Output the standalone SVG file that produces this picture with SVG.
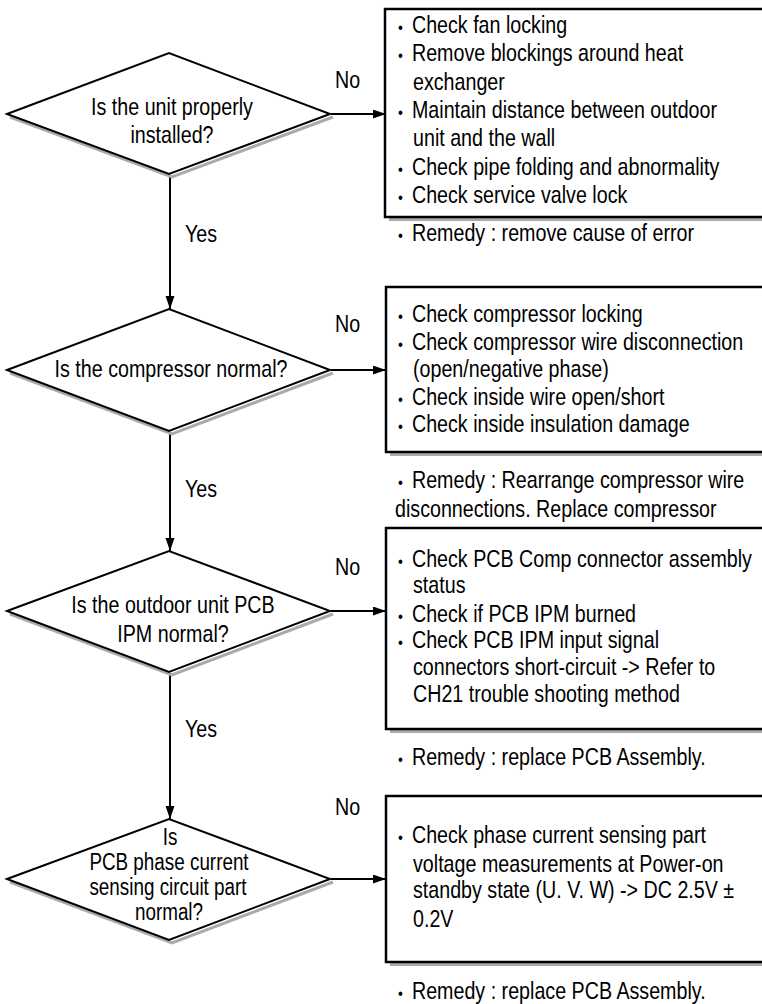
<svg xmlns="http://www.w3.org/2000/svg" width="762" height="1004" viewBox="0 0 762 1004">
<style>
text{font-family:"Liberation Sans",Arial,sans-serif;font-size:24px;fill:#000}
.d{fill:#fff;stroke:#000;stroke-width:2}
.ds{fill:none;stroke:#aaa;stroke-width:3}
.b{fill:#fff;stroke:#000;stroke-width:2.5}
.bs{fill:#aaa}
.c{fill:none;stroke:#000;stroke-width:2}
.m{text-anchor:middle}
.s{font-size:23px}
.u{font-size:17px}
</style>
<defs>
<marker id="ah" markerUnits="userSpaceOnUse" markerWidth="14" markerHeight="10" refX="13" refY="4.5" orient="auto">
<path d="M0,0 L13,4.5 L0,9 z" fill="#000"/>
</marker>
</defs>
<g id="connectors">
<line class="c" x1="170" y1="175" x2="170" y2="309" marker-end="url(#ah)"/>
<line class="c" x1="170" y1="432" x2="170" y2="551" marker-end="url(#ah)"/>
<line class="c" x1="170" y1="673" x2="170" y2="819" marker-end="url(#ah)"/>
<line class="c" x1="331" y1="114" x2="386" y2="114" marker-end="url(#ah)"/>
<line class="c" x1="331" y1="370" x2="386" y2="370" marker-end="url(#ah)"/>
<line class="c" x1="331" y1="611" x2="386" y2="611" marker-end="url(#ah)"/>
<line class="c" x1="331" y1="879" x2="386" y2="879" marker-end="url(#ah)"/>
<text transform="translate(335,88) scale(0.82,1)">No</text>
<text transform="translate(335,332) scale(0.82,1)">No</text>
<text transform="translate(335,575) scale(0.82,1)">No</text>
<text transform="translate(335,815) scale(0.82,1)">No</text>
<text transform="translate(185,242) scale(0.82,1)">Yes</text>
<text transform="translate(185,497) scale(0.82,1)">Yes</text>
<text transform="translate(185,737) scale(0.82,1)">Yes</text>
</g>
<g id="q1">
<polyline class="ds" points="10,117 172,177 333,117"/>
<polygon class="d" points="7,114 169,53 330,114 169,174"/>
<text class="m" transform="translate(172,115) scale(0.82,1)">Is the unit properly</text>
<text class="m" transform="translate(172,143) scale(0.82,1)">installed?</text>
</g>
<g id="q2">
<polyline class="ds" points="10,373 172,434 333,373"/>
<polygon class="d" points="7,370 169,309 330,370 169,431"/>
<text class="m" transform="translate(171,377) scale(0.82,1)">Is the compressor normal?</text>
</g>
<g id="q3">
<polyline class="ds" points="10,614 172,675 333,614"/>
<polygon class="d" points="7,611 169,551 330,611 169,672"/>
<text class="m" transform="translate(173,613) scale(0.82,1)">Is the outdoor unit PCB</text>
<text class="m" transform="translate(173,642) scale(0.82,1)">IPM normal?</text>
</g>
<g id="q4">
<polyline class="ds" points="10,882 172,943 333,882"/>
<polygon class="d" points="7,879 169,819 330,879 169,940"/>
<text class="m s" transform="translate(170,845) scale(0.82,1)">Is</text>
<text class="m s" transform="translate(169,870) scale(0.82,1)">PCB phase current</text>
<text class="m s" transform="translate(168,895) scale(0.82,1)">sensing circuit part</text>
<text class="m s" transform="translate(169,920) scale(0.82,1)">normal?</text>
</g>
<g id="a1">
<rect class="bs" x="389" y="13" width="400" height="208"/>
<rect class="b" x="385" y="9" width="400" height="208"/>
<text transform="translate(398,33) scale(0.82,1)"><tspan class="u">•</tspan><tspan x="17">Check fan locking</tspan></text>
<text transform="translate(398,61) scale(0.82,1)"><tspan class="u">•</tspan><tspan x="17">Remove blockings around heat</tspan></text>
<text transform="translate(413,90) scale(0.82,1)">exchanger</text>
<text transform="translate(398,118) scale(0.82,1)"><tspan class="u">•</tspan><tspan x="17">Maintain distance between outdoor</tspan></text>
<text transform="translate(413,146) scale(0.82,1)">unit and the wall</text>
<text transform="translate(398,175) scale(0.82,1)"><tspan class="u">•</tspan><tspan x="17">Check pipe folding and abnormality</tspan></text>
<text transform="translate(398,203) scale(0.82,1)"><tspan class="u">•</tspan><tspan x="17">Check service valve lock</tspan></text>
<text transform="translate(398,241) scale(0.82,1)"><tspan class="u">•</tspan><tspan x="17">Remedy : remove cause of error</tspan></text>
</g>
<g id="a2">
<rect class="bs" x="390" y="291" width="400" height="165"/>
<rect class="b" x="386" y="287" width="400" height="165"/>
<text transform="translate(398,322) scale(0.82,1)"><tspan class="u">•</tspan><tspan x="17">Check compressor locking</tspan></text>
<text transform="translate(398,350) scale(0.82,1)"><tspan class="u">•</tspan><tspan x="17">Check compressor wire disconnection</tspan></text>
<text transform="translate(413,377) scale(0.82,1)">(open/negative phase)</text>
<text transform="translate(398,405) scale(0.82,1)"><tspan class="u">•</tspan><tspan x="17">Check inside wire open/short</tspan></text>
<text transform="translate(398,432) scale(0.82,1)"><tspan class="u">•</tspan><tspan x="17">Check inside insulation damage</tspan></text>
<text transform="translate(398,488) scale(0.82,1)"><tspan class="u">•</tspan><tspan x="17">Remedy : Rearrange compressor wire</tspan></text>
<text transform="translate(395,517) scale(0.82,1)">disconnections. Replace compressor</text>
</g>
<g id="a3">
<rect class="bs" x="390" y="532" width="400" height="201"/>
<rect class="b" x="386" y="528" width="400" height="201"/>
<text transform="translate(398,567) scale(0.82,1)"><tspan class="u">•</tspan><tspan x="17">Check PCB Comp connector assembly</tspan></text>
<text transform="translate(413,593) scale(0.82,1)">status</text>
<text transform="translate(398,622) scale(0.82,1)"><tspan class="u">•</tspan><tspan x="17">Check if PCB IPM burned</tspan></text>
<text transform="translate(398,648) scale(0.82,1)"><tspan class="u">•</tspan><tspan x="17">Check PCB IPM input signal</tspan></text>
<text transform="translate(413,675) scale(0.82,1)">connectors short-circuit -&gt; Refer to</text>
<text transform="translate(413,702) scale(0.82,1)">CH21 trouble shooting method</text>
<text transform="translate(398,765) scale(0.82,1)"><tspan class="u">•</tspan><tspan x="17">Remedy : replace PCB Assembly.</tspan></text>
</g>
<g id="a4">
<rect class="bs" x="390" y="800" width="400" height="166"/>
<rect class="b" x="386" y="796" width="400" height="166"/>
<text transform="translate(398,843) scale(0.82,1)"><tspan class="u">•</tspan><tspan x="17">Check phase current sensing part</tspan></text>
<text transform="translate(413,872) scale(0.82,1)">voltage measurements at Power-on</text>
<text transform="translate(413,898) scale(0.82,1)">standby state (U. V. W) -&gt; DC 2.5V ±</text>
<text transform="translate(413,927) scale(0.82,1)">0.2V</text>
<text transform="translate(398,999) scale(0.82,1)"><tspan class="u">•</tspan><tspan x="17">Remedy : replace PCB Assembly.</tspan></text>
</g>
</svg>
